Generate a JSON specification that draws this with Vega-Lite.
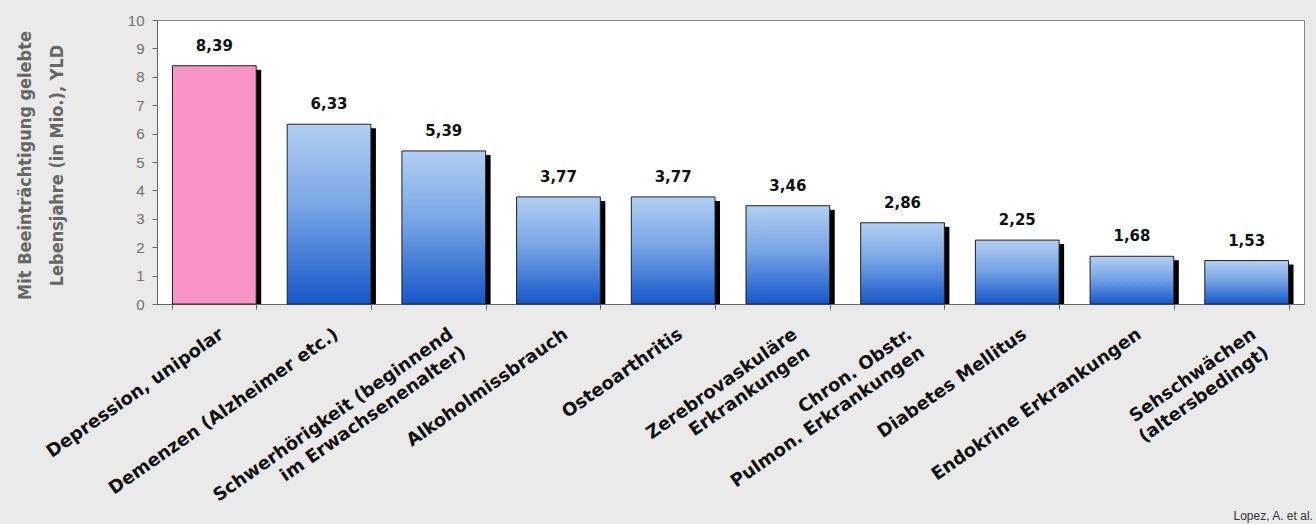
{
  "$schema": "https://vega.github.io/schema/vega-lite/v6.json",
  "autosize": {"type": "none"},
  "width": 1147,
  "height": 284,
  "padding": {"left": 157, "top": 20, "right": 12, "bottom": 220},
  "background": "#eaeaea",
  "config": {
    "view": {"fill": "white", "stroke": "#888888", "strokeWidth": 1},
    "font": "Liberation Sans"
  },
  "data": {
    "values": [
      {"krankheit": "Depression, unipolar", "wert": 8.39, "label": "8,39"},
      {"krankheit": "Demenzen (Alzheimer etc.)", "wert": 6.33, "label": "6,33"},
      {"krankheit": "Schwerhörigkeit (beginnend|im Erwachsenenalter)", "wert": 5.39, "label": "5,39"},
      {"krankheit": "Alkoholmissbrauch", "wert": 3.77, "label": "3,77"},
      {"krankheit": "Osteoarthritis", "wert": 3.77, "label": "3,77"},
      {"krankheit": "Zerebrovaskuläre|Erkrankungen", "wert": 3.46, "label": "3,46"},
      {"krankheit": "Chron. Obstr.|Pulmon. Erkrankungen", "wert": 2.86, "label": "2,86"},
      {"krankheit": "Diabetes Mellitus", "wert": 2.25, "label": "2,25"},
      {"krankheit": "Endokrine Erkrankungen", "wert": 1.68, "label": "1,68"},
      {"krankheit": "Sehschwächen|(altersbedingt)", "wert": 1.53, "label": "1,53"}
    ]
  },
  "encoding": {
    "x": {
      "field": "krankheit",
      "type": "nominal",
      "sort": null,
      "scale": {"paddingInner": 0.27, "paddingOuter": 0.135},
      "axis": {
        "title": "Lopez, A. et al.",
        "titleX": 1076,
        "titleY": 218,
        "titleAlign": "left",
        "titleBaseline": "bottom",
        "titleFontSize": 12,
        "titleFontWeight": "normal",
        "titleColor": "#333333",
        "titleLimit": 0,
        "labelExpr": "split(datum.label, '|')",
        "labelAngle": -35,
        "labelAlign": "right",
        "labelBaseline": "top",
        "labelFont": "DejaVu Sans",
        "labelFontSize": 18,
        "labelFontWeight": "bold",
        "labelColor": "#111111",
        "labelLineHeight": 22,
        "labelLimit": 0,
        "labelPadding": 16,
        "labelOffset": 2,
        "tickBand": "extent",
        "tickSize": 5,
        "tickColor": "#666666",
        "domainColor": "#666666"
      }
    },
    "y": {
      "field": "wert",
      "type": "quantitative",
      "scale": {"domain": [0, 10], "nice": false},
      "axis": {
        "values": [0, 1, 2, 3, 4, 5, 6, 7, 8, 9, 10],
        "grid": false,
        "title": ["Mit Beeinträchtigung gelebte", "Lebensjahre (in Mio.), YLD"],
        "titleFont": "DejaVu Sans Condensed, Liberation Sans",
        "titleFontSize": 18,
        "titleFontWeight": "bold",
        "titleColor": "#666666",
        "titleLineHeight": 32,
        "titleAngle": -90,
        "titleX": -132,
        "titleY": 145,
        "titleAlign": "center",
        "titleBaseline": "middle",
        "labelFontSize": 15,
        "labelColor": "#707070",
        "labelPadding": 8,
        "tickSize": 5,
        "tickColor": "#666666",
        "domainColor": "#666666"
      }
    }
  },
  "layer": [
    {
      "mark": {"type": "bar", "color": "#000000", "xOffset": 5, "yOffset": 4, "clip": true},
      "encoding": {}
    },
    {
      "transform": [{"filter": "datum.krankheit === 'Depression, unipolar'"}],
      "mark": {"type": "bar", "color": "#f995c6", "stroke": "#222222", "strokeWidth": 1}
    },
    {
      "transform": [{"filter": "datum.krankheit !== 'Depression, unipolar'"}],
      "mark": {
        "type": "bar",
        "stroke": "#222222",
        "strokeWidth": 1,
        "color": {
          "gradient": "linear",
          "x1": 0, "y1": 0, "x2": 0, "y2": 1,
          "stops": [
            {"offset": 0, "color": "#b2cff1"},
            {"offset": 0.45, "color": "#7aa6e6"},
            {"offset": 1, "color": "#1556c9"}
          ]
        }
      }
    },
    {
      "mark": {"type": "text", "baseline": "bottom", "dy": -12, "font": "DejaVu Sans", "fontSize": 15, "fontWeight": "bold", "color": "#111111"},
      "encoding": {"text": {"field": "label"}}
    }
  ]
}
